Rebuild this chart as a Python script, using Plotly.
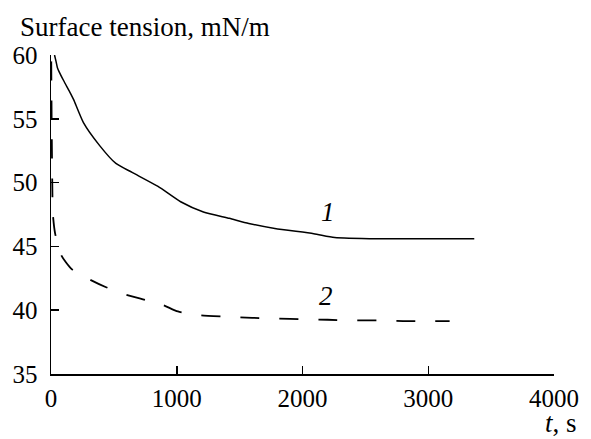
import plotly.graph_objects as go

# Curve 1 (solid)
t1 = [28, 40, 51, 64, 100, 155, 180, 258, 387, 516, 645, 851, 1031, 1212, 1418, 1573, 1780, 2089, 2256, 2604, 2991, 3366]
v1 = [60.0, 59.5, 59.0, 58.7, 58.0, 57.0, 56.5, 54.7, 52.9, 51.5, 50.8, 49.7, 48.5, 47.7, 47.2, 46.8, 46.4, 46.0, 45.7, 45.6, 45.6, 45.6]

# Curve 2 (dashed)
t2 = [2, 5, 10, 15, 33, 82, 167, 309, 438, 600, 750, 893, 1009, 1190, 1400, 1600, 1800, 2000, 2200, 2400, 2600, 2800, 3000, 3170]
v2 = [59.5, 55.0, 50.0, 47.5, 46.0, 44.3, 43.2, 42.4, 41.8, 41.2, 40.8, 40.4, 39.9, 39.6, 39.5, 39.4, 39.35, 39.3, 39.25, 39.2, 39.2, 39.15, 39.15, 39.15]

x_ticks = [0, 1000, 2000, 3000, 4000]
y_ticks = [35, 40, 45, 50, 55, 60]

FONT = "Liberation Serif"

fig = go.Figure()
fig.add_trace(go.Scatter(x=t1, y=v1, mode="lines", line=dict(color="black", width=1.5, shape="spline", smoothing=0.6), showlegend=False, hoverinfo="skip"))
fig.add_trace(go.Scatter(x=t2, y=v2, mode="lines", line=dict(color="black", width=1.8, dash="19px,20px", shape="spline", smoothing=0.6), showlegend=False, hoverinfo="skip"))

W, H = 591, 439
L, R, T, B = 46.7, 27.3, 55, 64.7

fig.update_layout(
    width=W, height=H,
    margin=dict(l=L, r=R, t=T, b=B, pad=0),
    paper_bgcolor="white", plot_bgcolor="white",
    font=dict(family=FONT, color="black", size=25),
    xaxis=dict(range=[0, 4000], tickvals=x_ticks, ticktext=[str(v) for v in x_ticks],
               ticks="inside", ticklen=8, tickwidth=1.5, tickcolor="black",
               showline=True, linecolor="black", linewidth=1.5, showgrid=False, zeroline=False,
               ticklabelstandoff=1, tickfont=dict(family=FONT, size=25)),
    yaxis=dict(range=[35, 60], tickvals=y_ticks, ticktext=[str(v) for v in y_ticks],
               ticks="inside", ticklen=8, tickwidth=1.5, tickcolor="black",
               showline=True, linecolor="black", linewidth=1.5, showgrid=False, zeroline=False,
               ticklabelstandoff=7, tickfont=dict(family=FONT, size=25)),
    annotations=[
        dict(text="Surface tension, mN/m", xref="paper", yref="paper", x=-0.0658, y=1.035,
             xanchor="left", yanchor="bottom", showarrow=False, font=dict(family=FONT, size=27)),
        dict(text="<i>t</i>, s", xref="paper", yref="paper", x=1.047, y=-0.2026,
             xanchor="right", yanchor="bottom", showarrow=False, borderpad=0,
             font=dict(family=FONT, size=27)),
        dict(text="<i>1</i>", x=2200, y=47.7, xref="x", yref="y", showarrow=False,
             font=dict(family=FONT, size=27)),
        dict(text="<i>2</i>", x=2190, y=41.1, xref="x", yref="y", showarrow=False,
             font=dict(family=FONT, size=27)),
    ],
)

fig.write_html("out.html", config={"displayModeBar": False, "staticPlot": True},
               post_script="document.body.style.margin='0px';document.body.style.overflow='hidden';")
